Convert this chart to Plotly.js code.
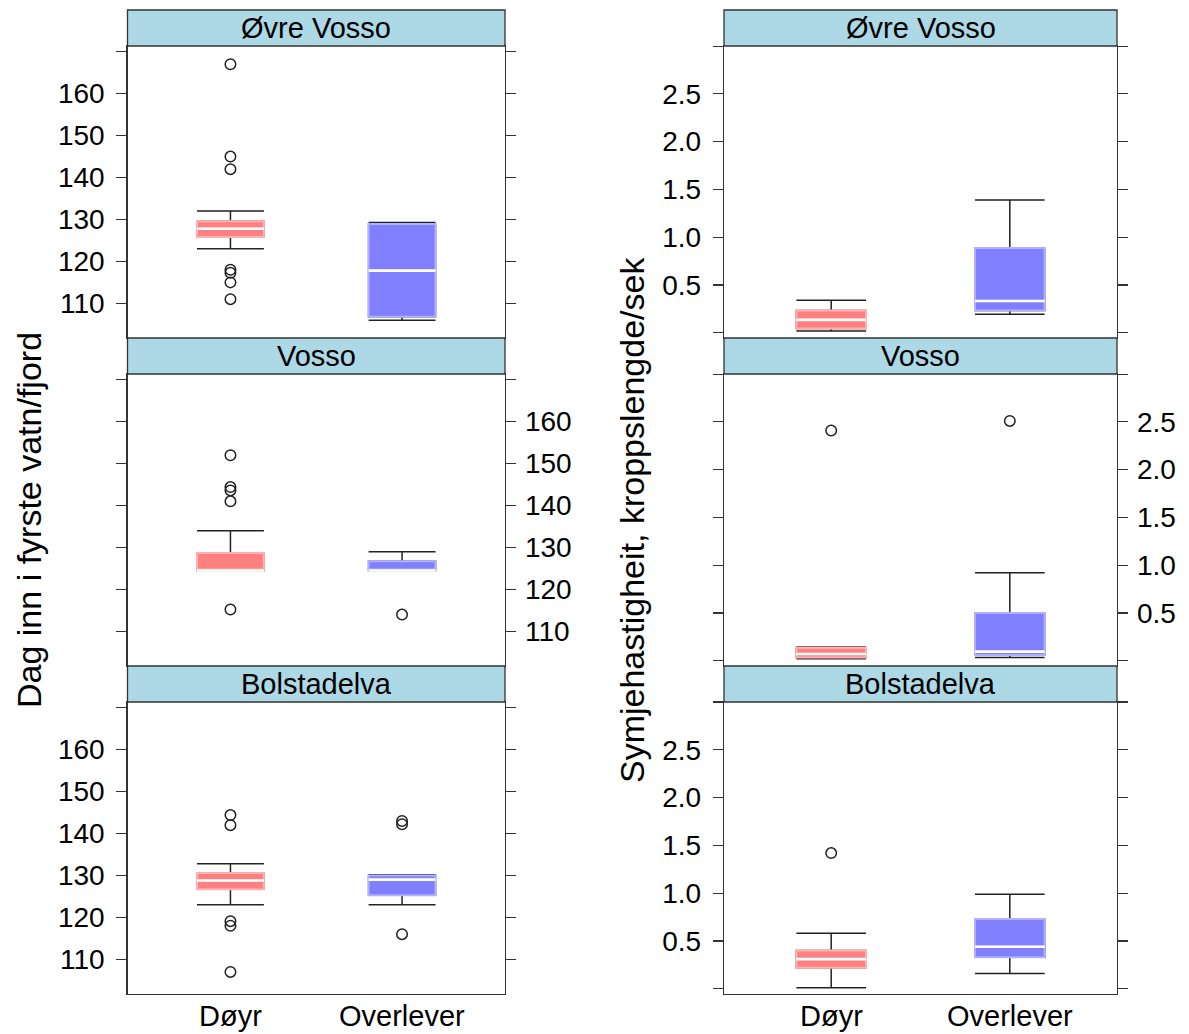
<!DOCTYPE html>
<html>
<head>
<meta charset="utf-8">
<script src="https://cdn.plot.ly/plotly-3.0.1.min.js"></script>
<style>html,body{margin:0;padding:0;background:#fff;}#chart{width:1189px;height:1034px;}</style>
</head>
<body>
<div id="chart"></div>
<script>
// ---------- data ----------
const rivers = ["Øvre Vosso", "Vosso", "Bolstadelva"];
const groups = ["Døyr", "Overlever"];

// Dag inn i fyrste vatn/fjord  [river][group]
const dagLower  = [[123, 106], [124.5, 124.5], [123, 123]];
const dagQ1     = [[125.8, 106.8], [124.5, 124.5], [126.7, 125.3]];
const dagMedian = [[127.8, 117.8], [124.5, 124.5], [128.8, 129.0]];
const dagQ3     = [[129.6, 128.9], [128.7, 126.7], [130.6, 130.0]];
const dagUpper  = [[132, 129.3], [134, 129], [132.8, 130.2]];
const dagOutliers = [
  [[167, 145, 142, 118, 117.3, 115, 111], []],
  [[152, 144.4, 143.6, 141, 115.2], [114]],
  [[144.4, 142, 119.1, 118, 107], [143, 142.2, 116]]
];

// Symjehastigheit, kroppslengde/sek  [river][group]
const spdLower  = [[0.017, 0.194], [0.02, 0.035], [0.01, 0.16]];
const spdQ1     = [[0.044, 0.232], [0.035, 0.06], [0.22, 0.33]];
const spdMedian = [[0.135, 0.333], [0.07, 0.095], [0.31, 0.44]];
const spdQ3     = [[0.232, 0.886], [0.136, 0.50], [0.40, 0.73]];
const spdUpper  = [[0.34, 1.39], [0.143, 0.92], [0.58, 0.99]];
const spdOutliers = [
  [[], []],
  [[2.41], [2.51]],
  [[1.42], []]
];

const dagTickVals = [110, 120, 130, 140, 150, 160, 170];
const dagTickText = ["110", "120", "130", "140", "150", "160", ""];
const spdTickVals = [0, 0.5, 1.0, 1.5, 2.0, 2.5, 3.0];
const spdTickText = ["", "0.5", "1.0", "1.5", "2.0", "2.5", ""];

const leftTitle = "Dag inn i fyrste vatn/fjord";
const rightTitle = "Symjehastigheit, kroppslengde/sek";

// ---------- styling ----------
const W = 1189, H = 1034;
const fillCol = ["#FF8080", "#8080FF"];
const edgeCol = ["#FFB0B0", "#B0B0FF"];
const dark = "#333333";
const FONT = "Liberation Sans, Arial, sans-serif";

const colX = [[127.5, 505], [724, 1117]];          // px
const rowY = [[46, 338], [374, 666], [702, 994]];   // px (top, bottom)
const stripH = 36;

const stats = [
  {lo: dagLower, q1: dagQ1, md: dagMedian, q3: dagQ3, up: dagUpper, out: dagOutliers,
   tv: dagTickVals, tt: dagTickText, range: [101.74, 171.36]},
  {lo: spdLower, q1: spdQ1, md: spdMedian, q3: spdQ3, up: spdUpper, out: spdOutliers,
   tv: spdTickVals, tt: spdTickText, range: [-0.055, 3.001]}
];

const traces = [];
const layout = {
  width: W, height: H,
  margin: {l: 0, r: 0, t: 0, b: 0},
  paper_bgcolor: "#ffffff", plot_bgcolor: "#ffffff",
  showlegend: false, boxmode: "overlay",
  font: {family: FONT, color: "#000"},
  shapes: [], annotations: []
};

for (let r = 0; r < 3; r++) {
  for (let c = 0; c < 2; c++) {
    const k = r * 2 + c + 1;
    const xa = k === 1 ? "x" : "x" + k;
    const ya = k === 1 ? "y" : "y" + k;
    const s = stats[c];
    for (let g = 0; g < 2; g++) {
      const common = {type: "box", xaxis: xa, yaxis: ya, x: [groups[g]], width: 0.39,
                      boxpoints: false, hoverinfo: "skip", showlegend: false};
      // whiskers
      traces.push(Object.assign({}, common, {
        q1: [s.q1[r][g]], median: [s.md[r][g]], q3: [s.q3[r][g]],
        lowerfence: [s.lo[r][g]], upperfence: [s.up[r][g]],
        whiskerwidth: 1, fillcolor: fillCol[g], line: {color: "#222", width: 1.5}
      }));
      // filled box
      traces.push(Object.assign({}, common, {
        q1: [s.q1[r][g]], median: [s.md[r][g]], q3: [s.q3[r][g]],
        lowerfence: [s.q1[r][g]], upperfence: [s.q3[r][g]],
        whiskerwidth: 0, fillcolor: fillCol[g], line: {color: edgeCol[g], width: 2}
      }));
      // median line
      traces.push(Object.assign({}, common, {
        q1: [s.md[r][g]], median: [s.md[r][g]], q3: [s.md[r][g]],
        lowerfence: [s.md[r][g]], upperfence: [s.md[r][g]],
        whiskerwidth: 0, fillcolor: "rgba(0,0,0,0)", line: {color: "#ffffff", width: 2.6}
      }));
      // outliers
      const o = s.out[r][g];
      if (o.length) {
        traces.push({type: "scatter", mode: "markers", xaxis: xa, yaxis: ya,
          x: o.map(() => groups[g]), y: o, hoverinfo: "skip",
          marker: {symbol: "circle-open", size: 10.5, color: "#222", line: {width: 1.5, color: "#222"}}});
      }
    }
    const xd = [colX[c][0] / W, colX[c][1] / W];
    const yd = [1 - rowY[r][1] / H, 1 - rowY[r][0] / H];
    layout["xaxis" + (k === 1 ? "" : k)] = {
      domain: xd, anchor: ya, type: "category", categoryorder: "array", categoryarray: groups,
      range: [-0.6, 1.6], showgrid: false, zeroline: false,
      showline: true, linecolor: dark, linewidth: 1.3, mirror: true,
      ticks: "", showticklabels: false, fixedrange: true
    };
    layout["yaxis" + (k === 1 ? "" : k)] = {
      domain: yd, anchor: xa, range: s.range, showgrid: false, zeroline: false,
      showline: true, linecolor: dark, linewidth: 1.3, mirror: "allticks",
      ticks: "outside", ticklen: 10, tickwidth: 1.2, tickcolor: dark,
      side: r === 1 ? "right" : "left",
      ticklabelstandoff: r === 1 ? 3 : 6,
      tickmode: "array", tickvals: s.tv, ticktext: s.tt,
      tickfont: {size: 28, color: "#000", family: FONT},
      fixedrange: true
    };
    // strip
    const sTop = rowY[r][0] - stripH;
    layout.shapes.push({type: "rect", xref: "paper", yref: "paper",
      x0: xd[0], x1: xd[1], y0: 1 - rowY[r][0] / H, y1: 1 - sTop / H,
      fillcolor: "#ADD8E6", line: {color: dark, width: 1.3}, layer: "above"});
    layout.annotations.push({xref: "paper", yref: "paper",
      x: (xd[0] + xd[1]) / 2, y: 1 - (sTop + stripH / 2) / H,
      text: rivers[r], showarrow: false, xanchor: "center", yanchor: "middle",
      font: {size: 29, color: "#000", family: FONT}});
    // category labels under bottom row
    if (r === 2) {
      for (let g = 0; g < 2; g++) {
        layout.annotations.push({xref: xa, yref: "paper", x: g, y: 1 - 1016 / H,
          text: groups[g], showarrow: false, xanchor: "center", yanchor: "middle",
          font: {size: 29, color: "#000", family: FONT}});
      }
    }
  }
}

layout.annotations.push({xref: "paper", yref: "paper", x: 29 / W, y: 1 - 520 / H,
  text: leftTitle, textangle: -90, showarrow: false, xanchor: "center", yanchor: "middle",
  font: {size: 34, color: "#000", family: FONT}});
layout.annotations.push({xref: "paper", yref: "paper", x: 632 / W, y: 1 - 520 / H,
  text: rightTitle, textangle: -90, showarrow: false, xanchor: "center", yanchor: "middle",
  font: {size: 34, color: "#000", family: FONT}});

Plotly.newPlot("chart", traces, layout, {staticPlot: true, displayModeBar: false});
</script>
</body>
</html>
